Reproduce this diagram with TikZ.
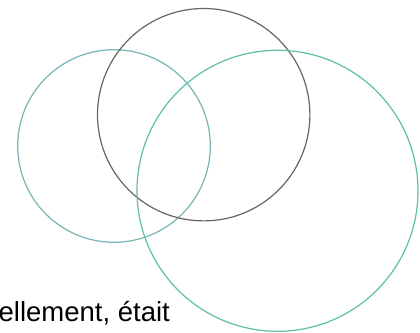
\documentclass[tikz,border=0pt]{standalone}
\usepackage{fontspec}
\setmainfont{Liberation Sans}
\definecolor{leftc}{HTML}{78B4B4}
\definecolor{topc}{HTML}{6B655D}
\definecolor{rightc}{HTML}{5FBFA6}
\begin{document}
\begin{tikzpicture}[x=1pt,y=1pt,
  ring/.style={line width=1.2pt}]
\useasboundingbox (0,0) rectangle (420,332);
\fill[white] (0,0) rectangle (420,332);
\draw[ring,leftc] (114,186) circle[radius=96.3];
\draw[ring,topc] (203.7,217.3) circle[radius=106.2];
\draw[ring,rightc] (277.5,141.2) circle[radius=140.5];
\node[anchor=base west,inner sep=0pt,font=\fontsize{27.5}{30}\selectfont] (txt) at (-1.5,11) {ellement, était};
\end{tikzpicture}
\end{document}
